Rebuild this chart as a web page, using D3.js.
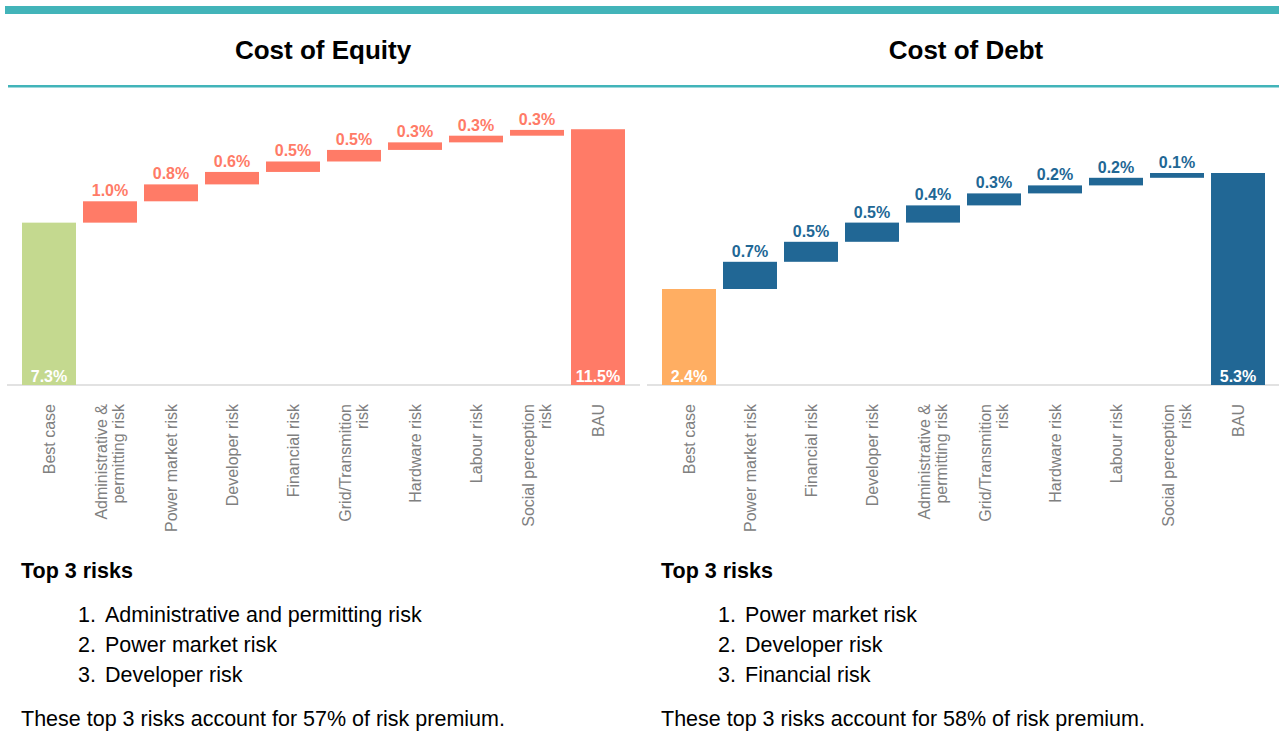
<!DOCTYPE html>
<html>
<head>
<meta charset="utf-8">
<script src="https://cdn.jsdelivr.net/npm/d3@7"></script>
<style>
  body { margin: 0; background: #fff; }
  svg { display: block; font-family: "Liberation Sans", Arial, sans-serif; }
</style>
</head>
<body>
<div id="chart"></div>
<script>
// data
const equityCategories = ["Best case", "Administrative &\npermitting risk", "Power market risk", "Developer risk",
  "Financial risk", "Grid/Transmition\nrisk", "Hardware risk", "Labour risk", "Social perception\nrisk", "BAU"];
const equityValues = [7.3, 0.96, 0.76, 0.56, 0.47, 0.52, 0.34, 0.3, 0.26, 11.5];

const debtCategories = ["Best case", "Power market risk", "Financial risk", "Developer risk",
  "Administrative &\npermitting risk", "Grid/Transmition\nrisk", "Hardware risk", "Labour risk", "Social perception\nrisk", "BAU"];
const debtValues = [2.4, 0.68, 0.5, 0.48, 0.43, 0.3, 0.2, 0.19, 0.12, 5.3];

const equityTop3 = ["Administrative and permitting risk", "Power market risk", "Developer risk"];
const debtTop3 = ["Power market risk", "Developer risk", "Financial risk"];
const equityShare = 57;
const debtShare = 58;

const width = 1279;
const height = 747;
const teal = "#42b4b9";

const svg = d3.select("#chart")
  .append("svg")
  .attr("width", width)
  .attr("height", height);

svg.append("rect")
  .attr("x", 5).attr("y", 6)
  .attr("width", width - 5).attr("height", 8)
  .attr("fill", teal);

svg.append("rect")
  .attr("x", 8).attr("y", 85)
  .attr("width", width - 8).attr("height", 2.5)
  .attr("fill", teal);

const panels = [
  { title: "Cost of Equity", titleX: 323, x0: 7, x1: 640, cats: equityCategories, vals: equityValues,
    yMax: 12.5, startColor: "#c4d98f", stepColor: "#ff7b67", endColor: "#ff7b67",
    top3: equityTop3, share: equityShare },
  { title: "Cost of Debt", titleX: 966, x0: 647, x1: 1279, cats: debtCategories, vals: debtValues,
    yMax: 6.95, startColor: "#ffae62", stepColor: "#216795", endColor: "#216795",
    top3: debtTop3, share: debtShare }
];

const baseY = 385;
const plotTop = 107;

panels.forEach(p => {
  const g = svg.append("g");

  g.append("text")
    .attr("x", p.titleX)
    .attr("y", 59)
    .attr("text-anchor", "middle")
    .attr("font-size", "26px")
    .attr("font-weight", "bold")
    .attr("fill", "#000")
    .text(p.title);

  const x = d3.scaleBand()
    .domain(p.cats)
    .range([p.x0 + 15, p.x0 + 618])
    .paddingInner(0.115)
    .paddingOuter(0);

  const y = d3.scaleLinear()
    .domain([0, p.yMax])
    .range([baseY, plotTop]);

  // waterfall pieces
  const n = p.vals.length;
  let cum = 0;
  const bars = p.vals.map((v, i) => {
    let lo, hi, kind;
    if (i === 0) { lo = 0; hi = v; cum = v; kind = "start"; }
    else if (i === n - 1) { lo = 0; hi = v; kind = "end"; }
    else { lo = cum; hi = cum + v; cum = hi; kind = "step"; }
    return { cat: p.cats[i], v, lo, hi, kind };
  });

  g.append("rect")
    .attr("x", p.x0)
    .attr("y", baseY - 1)
    .attr("width", p.x1 - p.x0)
    .attr("height", 2)
    .attr("fill", "#e2e2e2");

  g.selectAll(".bar")
    .data(bars)
    .enter()
    .append("rect")
    .attr("class", "bar")
    .attr("x", d => x(d.cat))
    .attr("y", d => y(d.hi))
    .attr("width", x.bandwidth())
    .attr("height", d => y(d.lo) - y(d.hi))
    .attr("fill", d => d.kind === "start" ? p.startColor : d.kind === "end" ? p.endColor : p.stepColor);

  // step labels above
  g.selectAll(".step-label")
    .data(bars.filter(d => d.kind === "step"))
    .enter()
    .append("text")
    .attr("class", "step-label")
    .attr("x", d => x(d.cat) + x.bandwidth() / 2)
    .attr("y", d => y(d.hi) - 5)
    .attr("text-anchor", "middle")
    .attr("font-size", "16px")
    .attr("font-weight", "bold")
    .attr("fill", p.stepColor)
    .text(d => d3.format(".1f")(d.v) + "%");

  // total labels inside
  g.selectAll(".total-label")
    .data(bars.filter(d => d.kind !== "step"))
    .enter()
    .append("text")
    .attr("class", "total-label")
    .attr("x", d => x(d.cat) + x.bandwidth() / 2)
    .attr("y", baseY - 3)
    .attr("text-anchor", "middle")
    .attr("font-size", "16px")
    .attr("font-weight", "bold")
    .attr("fill", "#fff")
    .text(d => d3.format(".1f")(d.v) + "%");

  // category labels, rotated
  g.selectAll(".cat-label")
    .data(p.cats)
    .enter()
    .append("text")
    .attr("class", "cat-label")
    .attr("transform", d => `translate(${x(d) + x.bandwidth() / 2}, 404) rotate(-90)`)
    .attr("text-anchor", "end")
    .attr("font-size", "16px")
    .attr("fill", "#808080")
    .each(function(d) {
      const lines = d.split("\n");
      lines.forEach((line, i) => {
        d3.select(this).append("tspan")
          .attr("x", 0)
          .attr("y", 0)
          .attr("dy", ((i - (lines.length - 1) / 2) * 1.1 + 0.35) + "em")
          .text(line);
      });
    });

  // text block below
  const tx = p.x0 + 14;
  g.append("text")
    .attr("x", tx)
    .attr("y", 578)
    .attr("font-size", "21.5px")
    .attr("font-weight", "bold")
    .attr("fill", "#000")
    .text("Top 3 risks");

  p.top3.forEach((r, i) => {
    g.append("text")
      .attr("x", tx + 57)
      .attr("y", 622 + i * 30)
      .attr("font-size", "21.5px")
      .attr("fill", "#000")
      .text((i + 1) + ".");
    g.append("text")
      .attr("x", tx + 84)
      .attr("y", 622 + i * 30)
      .attr("font-size", "21.5px")
      .attr("fill", "#000")
      .text(r);
  });

  g.append("text")
    .attr("x", tx)
    .attr("y", 726)
    .attr("font-size", "21.5px")
    .attr("fill", "#000")
    .text(`These top 3 risks account for ${p.share}% of risk premium.`);
});
</script>
</body>
</html>
